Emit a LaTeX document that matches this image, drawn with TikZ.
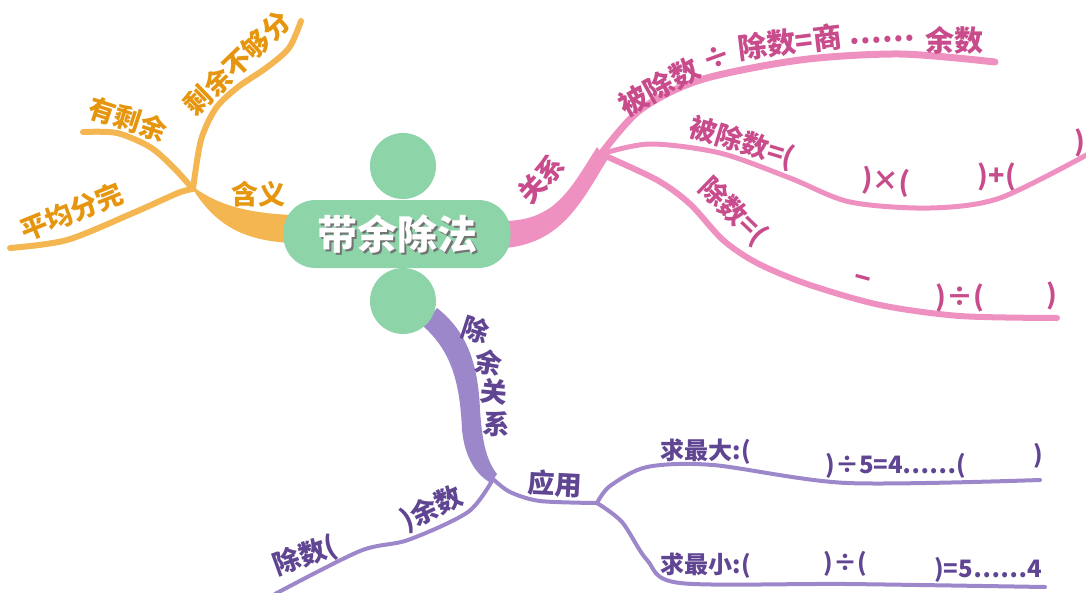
\documentclass[tikz,border=0pt]{standalone}
\usepackage{fontspec}
\newfontfamily\cjk{Noto Sans CJK SC}
\definecolor{gfill}{HTML}{8DD4A9}
\definecolor{oline}{HTML}{F4B650}
\definecolor{otext}{HTML}{E6960E}
\definecolor{pline}{HTML}{EE90C0}
\definecolor{ptext}{HTML}{C84C8C}
\definecolor{vline}{HTML}{9D87CB}
\definecolor{vtext}{HTML}{5F4592}
\begin{document}
\begin{tikzpicture}[x=1pt,y=-1pt,line cap=round,line join=round,
  ot/.style={text=otext,inner sep=0pt,font=\cjk\bfseries\fontsize{27}{30}\selectfont},
  pt/.style={text=ptext,inner sep=0pt,font=\cjk\bfseries\fontsize{27}{30}\selectfont},
  pbig/.style={text=ptext,inner sep=0pt,font=\cjk\bfseries\fontsize{29}{32}\selectfont},
  vt/.style={text=vtext,inner sep=0pt,font=\cjk\bfseries\fontsize{27}{30}\selectfont},
  vs/.style={text=vtext,inner sep=0pt,font=\cjk\bfseries\fontsize{24}{28}\selectfont},
  obr/.style={draw=oline,line width=6pt},
  pbr/.style={draw=pline,line width=6pt},
  vbr/.style={draw=vline,line width=4pt}]
\useasboundingbox (0,0) rectangle (1086,592);
% hubs
\coordinate (hO) at (193,189);
\coordinate (hP) at (601,154);
\coordinate (hV) at (493,479);
\coordinate (hV2) at (597,503);
% orange
\fill[oline] (292,215) .. controls (245,213) and (215,204) .. (191,185) -- (196,194) .. controls (218,226) and (245,241) .. (292,243) -- cycle;
\path[obr] plot[smooth] coordinates {(hO) (178,193) (133,213) (67,240) (10,248)};
\path[obr] plot[smooth] coordinates {(hO) (173,167) (150,147) (117,133) (83,132)};
\path[obr] plot[smooth] coordinates {(hO) (201,140) (216,108) (238,87) (266,68) (289,48) (301,21)};
% pink
\fill[pline] (505,221) .. controls (555,220) and (570,190) .. (597,147) -- (607,160) .. controls (580,205) and (560,243) .. (505,248) -- cycle;
\path[pbr,line width=7pt] plot[smooth] coordinates {(hP) (640,110) (700,80) (800,60) (900,54) (995,62)};
\path[pbr,line width=5pt] plot[smooth] coordinates {(hP) (650,144) (720,153) (790,178) (850,202) (930,208) (1000,198) (1092,152)};
\path[pbr] plot[smooth] coordinates {(hP) (657,180) (690,204) (723,240) (757,263) (807,284) (880,305) (960,316) (1057,318)};
% purple
\fill[vline] (423,326) .. controls (450,350) and (460,380) .. (462,430) .. controls (465,460) and (478,476) .. (491,483) -- (497,474) .. controls (486,460) and (482,440) .. (480,410) .. controls (478,360) and (465,330) .. (437,308) -- cycle;
\path[vbr] plot[smooth] coordinates {(hV) (468,512) (408,540) (360,551) (275,594)};
\path[vbr] plot[smooth] coordinates {(hV) (510,492) (540,501) (hV2)};
\path[vbr] plot[smooth] coordinates {(hV2) (610,486) (647,467) (713,465) (847,483) (1040,480)};
\path[vbr] plot[smooth] coordinates {(hV2) (622,522) (647,560) (680,583) (847,584) (1045,587)};
% center
\fill[gfill] (403,166) circle (33pt);
\fill[gfill] (403,301) circle (33pt);
\node[fill=gfill,rounded corners=32pt,minimum width=227pt,minimum height=68pt] (c) at (397,234) {};
\node[text=black!55,inner sep=0pt,font=\cjk\bfseries\fontsize{40}{44}\selectfont] (cs) at (399.5,236.5) {带余除法};
\node[text=white,inner sep=0pt,font=\cjk\bfseries\fontsize{40}{44}\selectfont] (ct) at (397,234) {带余除法};
% orange text
\node[ot,rotate=22] (o1) at (72,212) {平均分完};
\node[ot,rotate=-18] (o2) at (128,119) {有剩余};
\node[ot,rotate=44] (o3) at (237,63) {剩余不够分};
\node[ot] (o4) at (258,194) {含义};
% pink text
\node[pt,rotate=47] (p0) at (541,179) {关系};
\node[pbig,rotate=29] (p1) at (659,87) {被除数};
\node[pbig,rotate=20] (p2) at (717,58) {÷};
\node[pbig,rotate=7] (p3) at (790,42) {除数=商};
\node[pbig,rotate=3] (p4) at (882,40) {……};
\node[pbig] (p5) at (954,40) {余数};
\node[pt,rotate=-17] (p6) at (742,143) {被除数=(};
\node[pt,rotate=-4] (p7) at (886,182) {)×(};
\node[pt] (p8) at (997,177) {)+(};
\node[pt] (p9) at (1080,143) {)};
\node[pt,rotate=-44] (p10) at (733,211) {除数=(};
\node[pt,rotate=-15] (p11) at (862,282) {−};
\node[pt] (p12) at (960,298) {)÷(};
\node[pt] (p13) at (1052,296) {)};
% purple text
\node[vt,rotate=-18] (v1) at (476,330) {除};
\node[vt,rotate=-10] (v2) at (489,363) {余};
\node[vt,rotate=-6] (v3) at (494,392) {关};
\node[vt,rotate=-4] (v4) at (497,424) {系};
\node[vt,rotate=-3] (v5) at (555,484) {应用};
\node[vt,rotate=20] (v6) at (305,556) {除数(};
\node[vt,rotate=25] (v7) at (432,509) {)余数};
\node[vs] (v8) at (706,452) {求最大:(};
\node[vs] (v9) at (896,466) {)÷5=4……(};
\node[vs] (v10) at (1038,456) {)};
\node[vs] (v11) at (706,566) {求最小:(};
\node[vs] (v12) at (845,564) {)÷(};
\node[vs] (v13) at (988,570) {)=5……4};
\end{tikzpicture}
\end{document}
